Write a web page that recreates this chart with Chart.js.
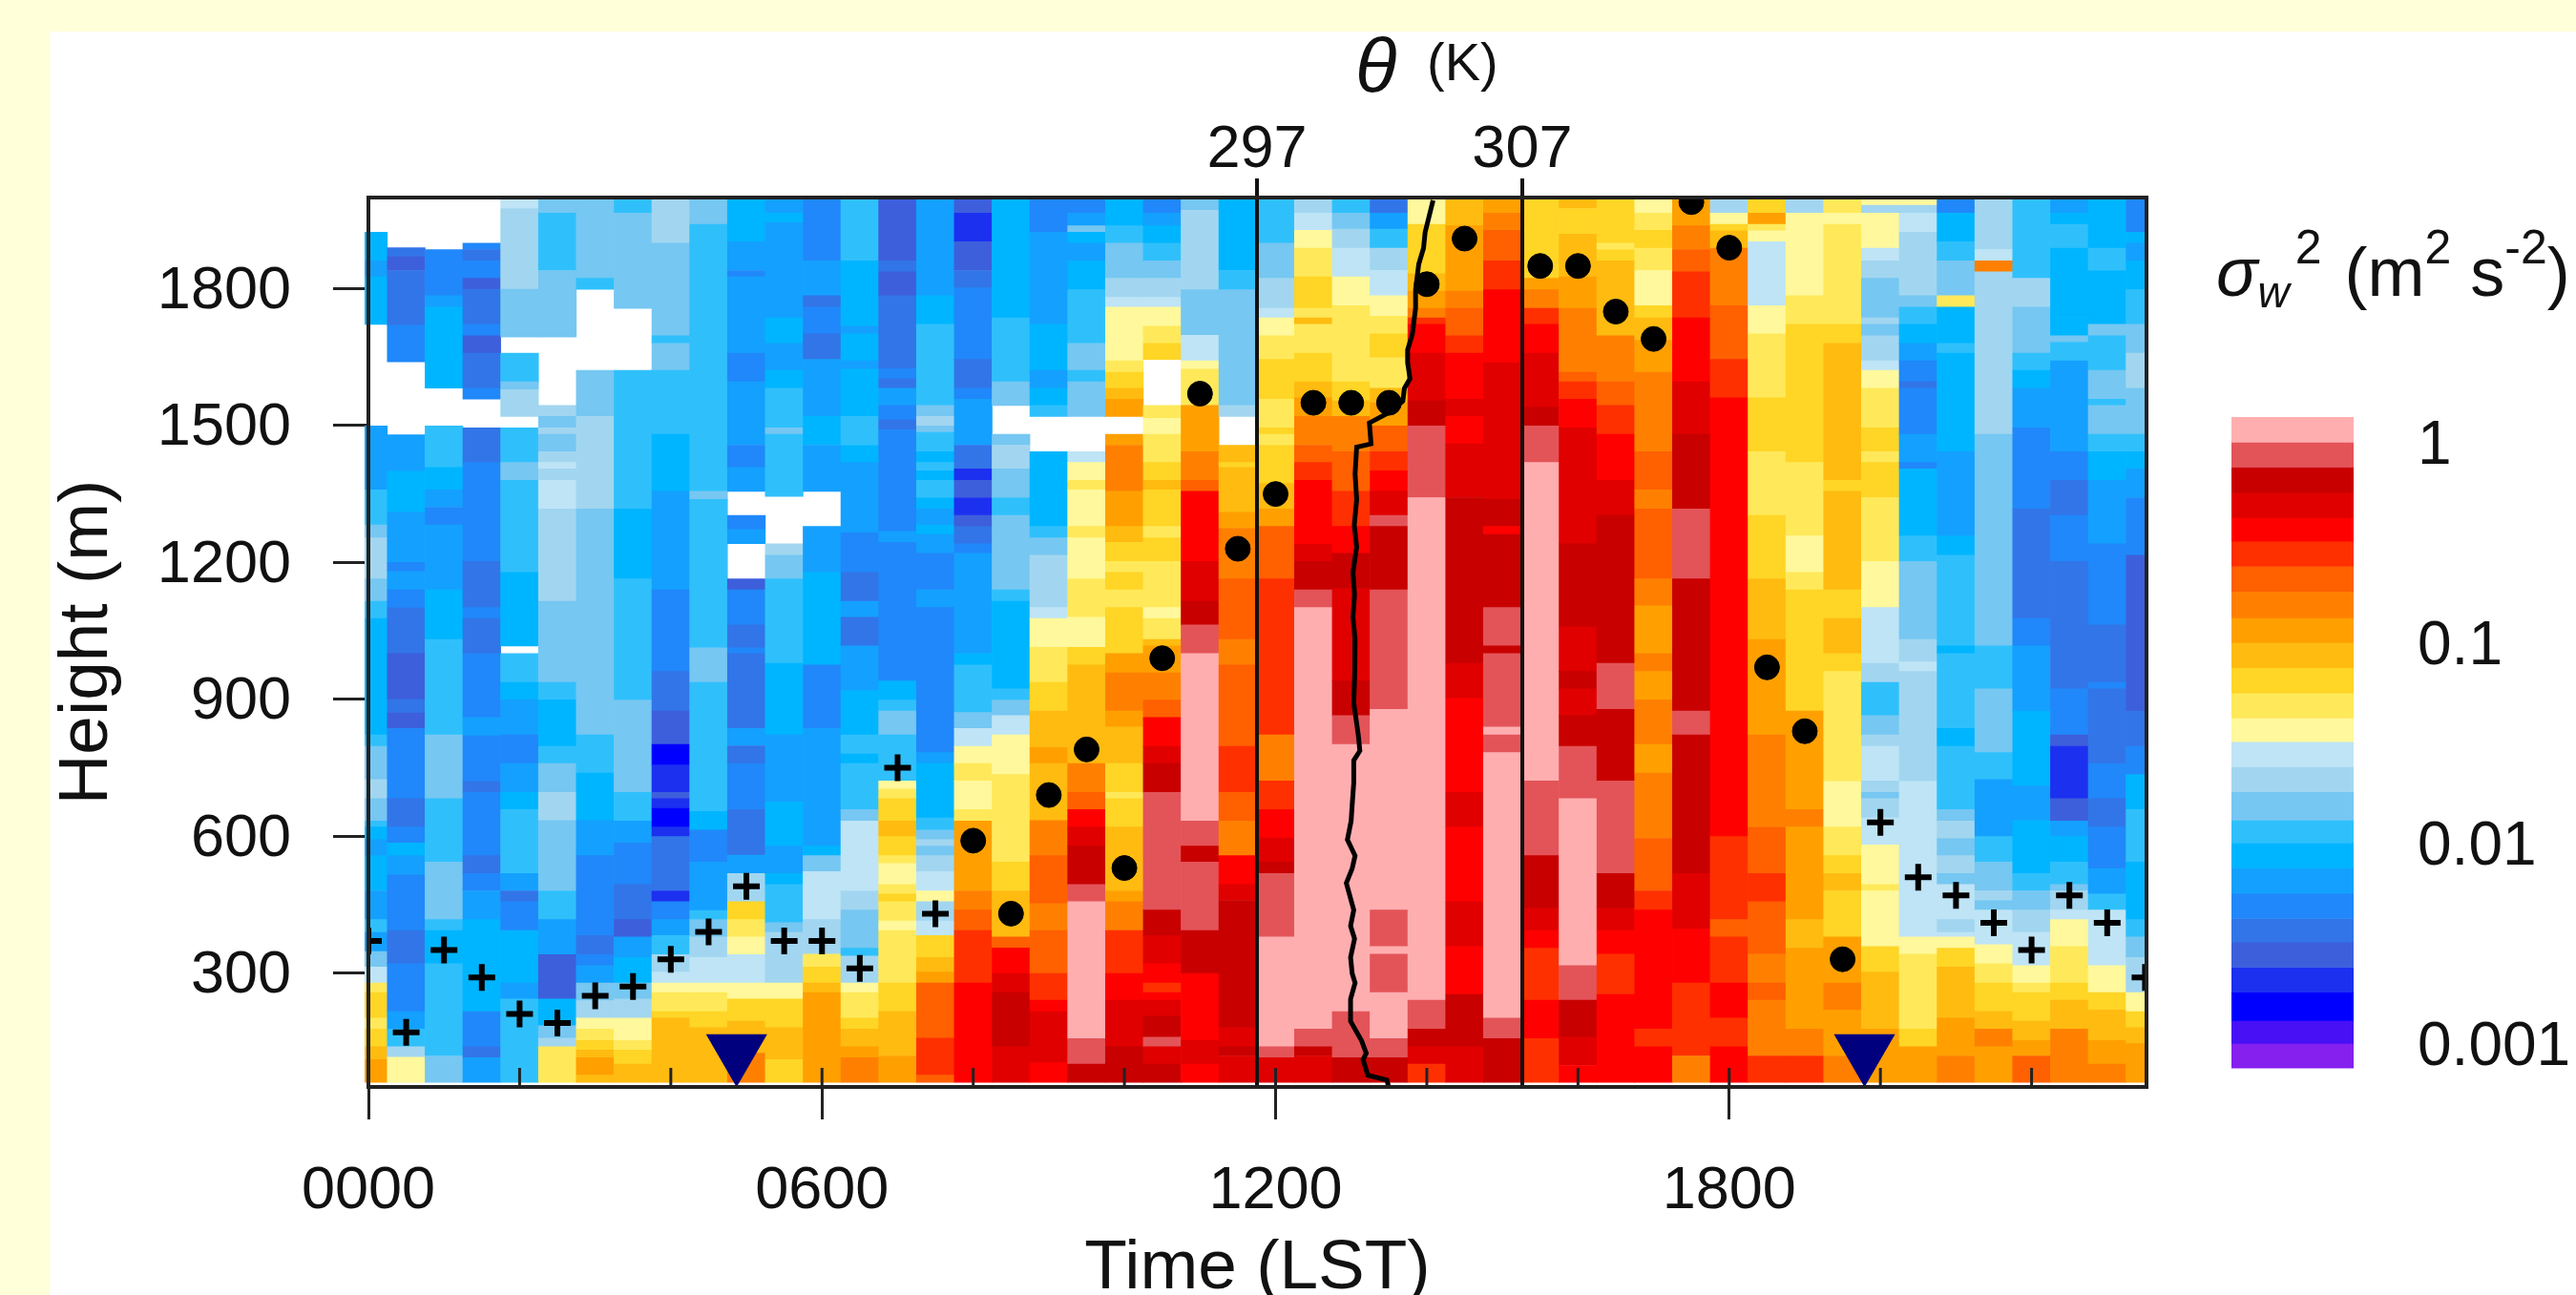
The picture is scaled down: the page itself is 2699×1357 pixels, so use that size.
<!DOCTYPE html>
<html lang="en">
<head>
    <meta charset="UTF-8">
    <title>Vertical velocity variance</title>
    <script src="https://cdn.jsdelivr.net/npm/chart.js"></script>
    <style>
        html, body { margin: 0; padding: 0; width: 2699px; height: 1357px; overflow: hidden; background: #ffffd9; font-family: "Liberation Sans", Arial, sans-serif; color: #111; }
        #panel { position: absolute; left: 52px; top: 33px; width: 2647px; height: 1324px; background: #fff; }
        canvas { position: absolute; }
        #mainChart { left: 0; top: 0; }
        #barChart { left: 2300px; top: 339px; }
        .label { position: absolute; white-space: nowrap; line-height: 1; }
        .up { position: relative; font-size: 50px; top: -34px; }
    </style>
</head>
<body>
    <div id="panel"></div>
    <canvas id="mainChart" width="2699" height="1357"></canvas>
    <canvas id="barChart" width="399" height="878"></canvas>
    <div class="label" style="left:1420px; top:29px; font-size:80px;"><i>θ</i></div>
    <div class="label" style="left:1495px; top:37px; font-size:56px;">(K)</div>
    <div class="label" style="left:2322px; top:249px; font-size:72px;"><i>σ</i><i style="font-size:46px; position:relative; top:12px;">w</i><span class="up" style="margin-left:6px;">2</span><span style="margin-left:4px;"> (m</span><span class="up">2</span> s<span class="up">-2</span>)</div>
    <script>
        // colour bands of the variance scale, top of the colour bar first
        const bandColors = [
            '#ffaeb0', '#e35458', '#c80000', '#e00000', '#ff0000', '#ff3000', '#ff6000', '#ff8000', '#ffa000',
            '#ffbb10', '#ffd526', '#ffe95a', '#fff89c', '#bee4f6', '#a2d6f0', '#76c7f2', '#2fc0fc', '#00b5ff',
            '#14a0ff', '#2088fa', '#3275e8', '#3d5fdc', '#1c30f0', '#0000ff', '#4710f5', '#8520ee'
        ];
        const bandEdges = [1.33, 1, 0.75, 0.56, 0.42, 0.32, 0.24, 0.18, 0.133, 0.1, 0.075, 0.056, 0.042, 0.032,
            0.024, 0.018, 0.013, 0.01, 0.0075, 0.0056, 0.0042, 0.0032, 0.0024, 0.0018, 0.0013, 0.001, 0.00075];
        const barTicks = [1, 0.1, 0.01, 0.001];

        const columnTimes = [0, 0.5, 1, 1.5, 2, 2.5, 3, 3.5, 4, 4.5, 5, 5.5, 6, 6.5, 7, 7.5, 8, 8.5, 9, 9.5, 10, 10.5, 11, 11.5,
            12, 12.5, 13, 13.5, 14, 14.5, 15, 15.5, 16, 16.5, 17, 17.5, 18, 18.5, 19, 19.5, 20, 20.5, 21, 21.5, 22, 22.5, 23, 23.5];

        // one list per time column, from the top down: band, height (m) where that band stops. -1 = no data
        const varianceRuns = [
            [-1,1924,17,1861,18,1826,17,1722,-1,1499,18,1359,16,1282,15,1254,14,1164,15,1115,16,1077,17,822,16,797,15,724,14,682,15,633,16,620,17,592,18,557,17,480,18,417,16,389,18,347,15,313,13,278,11,257,10,201,11,177,10,138,9,110,8,60],
            [-1,1890,20,1870,21,1840,20,1720,19,1640,-1,1480,18,1400,17,1310,18,1200,19,1180,18,1140,19,1100,20,1000,21,900,20,870,21,836,19,682,20,620,19,585,17,557,18,515,19,393,20,320,19,215,18,177,16,138,14,115,12,60],
            [-1,1886,19,1785,18,1760,17,1582,-1,1499,16,1408,17,1359,18,1321,19,1282,18,1140,17,1031,16,822,15,682,16,543,15,417,16,393,17,320,16,118,15,60],
            [-1,1900,19,1886,20,1861,19,1823,21,1799,20,1722,19,1697,21,1659,20,1582,19,1558,-1,1495,20,1419,19,1202,20,1101,19,1077,20,1000,19,860,18,820,19,720,20,696,19,557,20,518,19,480,18,417,17,215,19,138,20,114,18,60],
            [13,1976,14,1799,15,1694,-1,1659,16,1596,15,1579,14,1520,-1,1495,16,1419,15,1380,16,1178,17,1017,-1,1000,16,937,17,899,18,822,19,759,18,696,17,658,16,518,18,480,20,456,19,393,17,278,18,243,16,60],
            [15,1966,16,1840,15,1694,-1,1544,14,1520,15,1495,14,1481,15,1443,14,1419,13,1405,14,1380,13,1317,14,1115,15,937,16,899,17,797,16,759,15,696,14,634,15,480,16,417,18,340,21,243,17,184,15,157,14,138,11,60],
            [15,1823,16,1799,-1,1621,15,1520,14,1317,15,822,16,738,17,634,18,557,19,382,20,340,19,316,18,278,15,239,14,201,12,177,11,152,10,131,9,114,8,76,9,60],
            [16,1966,15,1757,-1,1621,16,1317,17,1164,16,898,15,696,16,633,18,585,19,494,20,417,21,379,18,334,17,278,15,243,14,201,12,152,11,131,10,100,9,60],
            [14,1900,15,1697,16,1680,15,1621,16,1481,17,1356,18,1140,19,961,20,874,21,801,23,756,22,696,21,682,22,661,23,620,22,599,20,480,22,456,19,417,18,382,16,340,14,302,13,278,12,257,11,215,10,201,9,60],
            [15,1941,16,1356,15,1338,16,1013,15,937,16,654,17,613,19,543,18,437,16,417,15,379,14,334,13,278,12,257,11,215,10,180,9,60],
            [17,1903,18,1840,19,1826,18,1659,19,1596,18,1457,19,1408,18,1356,-1,1303,19,1272,18,1241,-1,1164,21,1140,19,1063,20,1013,19,1000,20,836,18,798,20,759,19,658,20,558,18,518,14,456,10,417,11,379,12,340,13,278,12,243,10,194,9,124,7,60],
            [18,1966,17,1945,18,1736,17,1680,18,1621,17,1582,16,1495,15,1481,16,1345,-1,1241,14,1216,15,1164,16,979,17,822,18,675,17,578,18,518,17,494,16,410,15,389,14,278,12,243,10,180,9,110,10,60],
            [19,1861,18,1785,20,1760,19,1701,20,1645,18,1520,17,1457,18,1356,-1,1279,18,1178,17,975,19,836,18,578,17,557,15,522,13,417,14,341,11,313,10,278,9,257,8,60],
            [16,1861,17,1718,18,1701,17,1642,18,1624,17,1520,16,1457,17,1419,18,1265,19,1178,20,1115,18,1080,20,1017,18,919,17,822,16,780,17,759,16,658,15,633,13,480,14,438,15,354,16,337,14,278,12,257,11,201,10,177,9,138,8,114,7,60],
            [21,1861,20,1837,21,1785,20,1625,19,1603,20,1582,18,1544,19,1513,20,1491,19,1268,18,1244,19,940,17,898,16,874,15,822,16,721,12,703,11,682,10,633,9,599,10,557,11,540,12,494,11,473,10,456,11,414,12,393,11,278,10,215,9,118,8,60],
            [18,1785,17,1722,16,1544,15,1520,14,1499,15,1485,16,1443,17,1419,16,1401,17,1380,16,1342,17,1317,18,1282,17,1261,18,1220,19,1140,18,1101,19,783,18,759,17,640,16,613,15,592,14,578,15,557,14,522,13,480,12,456,14,414,13,382,10,334,9,302,8,278,6,157,5,76,6,60],
            [21,1966,22,1903,21,1840,20,1802,19,1645,20,1582,19,1558,18,1457,20,1405,22,1380,21,1342,22,1303,21,1279,20,1241,19,1220,18,1000,17,975,16,871,15,836,13,797,12,759,11,721,12,658,11,633,8,480,7,438,6,393,5,278,4,60],
            [17,1736,16,1596,15,1544,-1,1481,15,1457,14,1405,15,1342,16,1303,15,1140,16,1115,17,923,16,898,15,864,13,822,12,735,11,543,10,480,9,379,6,355,4,299,3,257,2,138,3,60],
            [19,1924,18,1722,17,1621,18,1582,17,1544,16,1520,-1,1443,17,1279,16,1254,15,1216,14,1101,13,1077,12,1014,11,937,10,874,9,794,8,759,9,634,7,557,6,452,7,393,6,299,5,240,4,215,3,103,4,60],
            [19,1966,18,1938,15,1924,17,1900,18,1861,17,1798,16,1680,15,1621,16,1596,15,1520,-1,1443,13,1419,12,1380,11,1359,12,1279,11,1254,12,1164,11,1080,12,1014,10,975,9,759,7,696,6,658,4,620,3,578,2,494,1,456,0,156,1,100,2,60],
            [17,1938,16,1900,15,1823,14,1781,13,1760,12,1642,11,1617,10,1582,9,1558,8,1520,-1,1481,8,1457,7,1356,8,1279,9,1244,10,1202,11,1178,10,1140,11,1101,10,1000,8,958,7,874,8,839,9,759,10,696,11,682,10,620,9,480,8,456,7,393,5,299,4,240,3,138,2,60],
            [19,1966,18,1938,17,1900,16,1861,15,1823,14,1781,13,1760,12,1718,11,1680,10,1645,-1,1544,11,1516,12,1481,11,1419,10,1380,9,1359,10,1279,11,1254,10,1202,11,1101,12,1077,11,1031,9,1017,8,958,7,898,6,860,4,797,3,759,2,696,1,438,2,382,3,320,4,278,5,257,4,240,3,205,2,159,1,138,3,100,2,60],
            [15,1972,14,1798,15,1698,13,1642,12,1624,11,1544,8,1443,7,1380,6,1356,4,1202,3,1115,2,1063,1,1000,0,633,1,578,2,543,1,393,2,299,4,152,3,100,4,60],
            [17,1840,16,1798,15,1544,14,1520,-1,1457,9,1419,10,1408,9,1310,8,1275,7,1164,6,1031,7,975,6,797,5,696,6,633,7,557,4,494,3,459,2,180,3,138,2,118,3,60],
            [16,1900,15,1823,14,1757,13,1736,12,1697,11,1645,10,1558,11,1495,10,1481,11,1457,10,1373,9,1317,8,1279,6,1164,5,822,7,721,5,658,4,596,3,543,2,518,1,379,0,138,1,114,3,60],
            [14,1966,13,1928,12,1889,11,1826,10,1757,11,1736,9,1722,11,1659,10,1596,9,1561,8,1520,7,1457,6,1419,5,1380,4,1240,3,1202,2,1140,1,1101,0,177,1,138,2,118,3,60],
            [16,1966,15,1931,14,1889,13,1826,12,1763,11,1596,10,1554,9,1520,7,1443,6,1356,5,1279,4,1220,2,1143,3,940,2,864,1,801,0,215,1,114,2,60],
            [20,1966,18,1931,16,1889,14,1840,13,1785,12,1740,11,1701,10,1649,11,1582,9,1550,8,1499,6,1443,5,1401,4,1356,3,1303,1,1279,2,1140,1,878,0,438,1,358,0,341,1,257,0,156,1,114,2,60],
            [12,1941,10,1833,9,1795,8,1757,7,1736,5,1722,4,1659,3,1554,2,1499,1,1342,0,240,1,177,2,138,3,100,5,60],
            [9,1938,8,1795,7,1757,6,1697,5,1659,4,1558,3,1520,4,1460,3,1342,2,979,3,902,4,696,3,620,4,456,3,358,4,253,2,138,3,60],
            [8,1966,7,1928,6,1861,5,1798,4,1638,3,1338,2,1279,4,1261,2,1101,1,1017,2,1000,1,839,0,822,1,783,0,201,1,156,2,60],
            [10,1823,8,1798,7,1757,5,1722,4,1659,3,1540,2,1499,1,1419,0,721,1,557,2,442,3,393,4,354,5,240,4,156,5,60],
            [9,1976,10,1920,9,1826,8,1757,7,1617,6,1596,5,1558,4,1495,3,1241,2,1059,3,961,2,923,3,864,2,797,1,682,0,316,1,240,2,159,3,97,4,60],
            [10,1900,11,1886,10,1861,9,1697,7,1596,6,1544,5,1481,4,1380,3,1303,2,979,1,878,2,721,1,518,2,442,3,393,4,341,5,253,4,60],
            [12,1966,11,1928,10,1889,11,1840,12,1763,10,1736,9,1687,8,1617,7,1443,6,1359,7,1317,6,1164,7,1105,8,1000,7,961,8,899,7,801,8,738,7,595,6,480,5,438,4,177,5,138,4,60],
            [8,1938,7,1886,6,1837,5,1736,4,1596,3,1481,2,1317,1,1164,2,874,1,822,2,518,3,396,4,278,5,118,7,60],
            [14,1966,12,1941,10,1927,9,1889,7,1763,6,1645,5,1561,4,599,5,417,6,379,5,278,4,201,5,138,4,60],
            [10,1966,8,1941,11,1927,12,1903,13,1763,12,1701,11,1561,10,1443,11,1303,10,1164,9,1031,8,822,7,619,6,518,5,456,6,341,7,278,6,240,7,118,5,60],
            [14,1966,12,1785,11,1722,10,1419,11,1258,12,1178,11,1140,10,874,8,658,7,620,8,417,9,354,8,177,7,118,5,60],
            [11,1966,12,1941,11,1722,10,1680,9,1380,10,1356,9,1140,10,1077,9,1000,10,961,11,720,12,620,11,557,10,518,9,480,10,379,8,278,7,218,8,118,7,60],
            [12,1983,14,1966,12,1889,13,1861,14,1823,15,1736,14,1722,15,1697,14,1642,13,1621,12,1582,11,1495,10,1443,11,1419,10,1342,11,1202,12,1101,13,979,14,937,16,864,15,822,14,797,13,721,14,696,15,682,14,640,13,581,12,494,11,480,12,358,10,302,9,177,8,60],
            [12,1983,14,1966,13,1924,14,1785,15,1760,16,1722,17,1680,18,1642,19,1596,20,1582,19,1481,18,1419,19,1405,17,1258,16,1202,15,1031,14,982,13,961,14,720,13,379,12,341,11,177,10,138,8,60],
            [19,1966,17,1903,16,1861,15,1785,11,1760,17,1680,16,1659,17,1443,18,1258,17,1216,16,1017,17,1000,16,836,17,797,16,658,15,633,14,595,15,557,14,518,15,494,13,417,14,389,13,379,12,354,10,313,9,201,8,118,7,60],
            [14,1886,13,1861,7,1837,14,1481,15,1017,16,923,15,783,16,724,18,599,16,543,15,480,14,459,15,438,13,362,12,320,11,278,10,215,9,177,7,138,8,60],
            [16,1823,14,1760,15,1659,16,1621,17,1582,18,1495,19,1317,20,1077,19,1017,18,874,17,710,18,634,17,518,16,480,15,438,14,389,13,316,12,278,11,257,10,194,9,152,8,118,6,60],
            [18,1966,17,1941,16,1889,17,1736,16,1736,17,1697,15,1683,16,1642,18,1443,19,1380,20,1303,19,1202,20,923,19,822,21,797,22,682,21,633,18,599,17,543,16,494,15,480,14,438,13,417,12,358,11,278,10,240,9,177,7,60],
            [17,1889,16,1840,17,1722,15,1697,16,1621,15,1558,16,1544,15,1481,16,1443,17,1380,18,1241,19,1063,20,937,19,923,20,759,19,682,20,620,19,529,18,473,16,438,13,316,12,257,10,219,9,152,8,100,7,60],
            [19,1924,17,1900,18,1861,17,1798,16,1722,15,1659,14,1582,15,1481,16,1443,17,1405,18,1342,19,1216,21,874,20,797,19,735,17,658,16,543,17,417,16,379,15,334,14,257,12,215,10,180,9,145,8,60]
        ];

        // plus signs, night time
        const plusTimes = [0, 0.5, 1, 1.5, 2, 2.5, 3, 3.5, 4, 4.5, 5, 5.5, 6, 6.5, 7, 7.5, 20, 20.5, 21, 21.5, 22, 22.5, 23, 23.5];
        const plusHeights = [370, 170, 350, 290, 210, 190, 250, 270, 330, 390, 490, 370, 370, 310, 750, 430, 630, 510, 470, 410, 350, 470, 410, 290];

        // black dots, day time
        const dotTimes = [8, 8.5, 9, 9.5, 10, 10.5, 11, 11.5, 12, 12.5, 13, 13.5, 14, 14.5, 15.5, 16, 16.5, 17, 17.5, 18, 18.5, 19, 19.5];
        const dotHeights = [590, 430, 690, 790, 530, 990, 1570, 1230, 1350, 1550, 1550, 1550, 1810, 1910, 1850, 1850, 1750, 1690, 1990, 1890, 970, 830, 330];

        // sunrise and sunset triangles
        const sunTimes = [4.87, 19.79];
        const sunHeights = [127, 127];

        // potential temperature profile
        const thetaValues = [303.64, 303.52, 303.34, 303.28, 303.10, 302.98, 302.98, 302.86, 302.68, 302.68, 302.77, 302.56, 302.50, 302.02, 301.24, 301.30, 300.76, 300.70, 300.76, 300.67, 300.76, 300.62, 300.68, 300.62, 300.70,
            300.68, 300.70, 300.65, 300.82, 300.88, 300.65, 300.65, 300.59, 300.55, 300.41, 300.70, 300.59, 300.37, 300.65, 300.53, 300.68, 300.53, 300.59, 300.70, 300.53, 300.53, 300.94, 301.12, 301.00, 301.18, 301.90, 301.96];
        const thetaHeights = [1994, 1966, 1924, 1889, 1854, 1798, 1757, 1701, 1666, 1638, 1603, 1582, 1554, 1530, 1506, 1460, 1453, 1394, 1338, 1282, 1234, 1178, 1129, 1080, 1031,
            1031, 961, 892, 822, 787, 766, 717, 668, 633, 592, 557, 529, 497, 438, 403, 375, 334, 299, 278, 243, 194, 152, 124, 110, 76, 65, 51];

        const heightTicks = [300, 600, 900, 1200, 1500, 1800];
        const timeTicks = [0, 6, 12, 18];
        const timeTickLabels = ['0000', '0600', '1200', '1800'];
        const minorTimeTicks = [0, 2, 4, 6, 8, 10, 12, 14, 16, 18, 20, 22];
        const thetaTicks = [297, 307];

        const cells = [];
        const cellColors = [];
        varianceRuns.forEach((runs, k) => {
            let top = 2000;
            for (let i = 0; i < runs.length; i += 2) {
                if (runs[i] >= 0) {
                    cells.push({ x: columnTimes[k], y: [runs[i + 1], top] });
                    cellColors.push(bandColors[runs[i]]);
                }
                top = runs[i + 1];
            }
        });

        function pairs(xs, ys) {
            return xs.map((x, i) => ({ x: x, y: ys[i] }));
        }

        const tickFont = { family: 'Liberation Sans', size: 63 };
        const titleFont = { family: 'Liberation Sans', size: 73 };

        // frame round the plot and the short inner ticks on the time axis
        const framePlugin = {
            id: 'frame',
            afterDraw(chart) {
                const ctx = chart.ctx;
                const a = chart.chartArea;
                const xs = chart.scales.x;
                ctx.save();
                ctx.strokeStyle = '#222';
                ctx.lineWidth = 3;
                minorTimeTicks.forEach(t => {
                    const px = xs.getPixelForValue(t);
                    ctx.beginPath();
                    ctx.moveTo(px, a.bottom);
                    ctx.lineTo(px, a.bottom - 20);
                    ctx.stroke();
                });
                ctx.lineWidth = 4;
                ctx.strokeRect(a.left, a.top, a.right - a.left, a.bottom - a.top);
                ctx.restore();
            }
        };

        new Chart(document.getElementById('mainChart'), {
            type: 'bar',
            data: {
                datasets: [
                    {
                        label: 'variance', data: cells, backgroundColor: cellColors, xAxisID: 'cellX', yAxisID: 'y',
                        barPercentage: 1, categoryPercentage: 1, grouped: false, order: 5,
                        clip: { left: 4, top: 0, right: 0, bottom: 0 }
                    },
                    {
                        type: 'scatter', label: 'theta', data: pairs(thetaValues, thetaHeights), xAxisID: 'theta', yAxisID: 'y',
                        showLine: true, borderColor: '#000', borderWidth: 5, pointRadius: 0, order: 3, clip: 0
                    },
                    {
                        type: 'scatter', label: 'night', data: pairs(plusTimes, plusHeights), xAxisID: 'x', yAxisID: 'y',
                        pointStyle: 'cross', pointRadius: 14, borderColor: '#000', pointBorderWidth: 6, order: 2, clip: 0
                    },
                    {
                        type: 'scatter', label: 'day', data: pairs(dotTimes, dotHeights), xAxisID: 'x', yAxisID: 'y',
                        pointStyle: 'circle', pointRadius: 13, backgroundColor: '#000', borderColor: '#000', order: 2, clip: 0
                    },
                    {
                        type: 'scatter', label: 'sun', data: pairs(sunTimes, sunHeights), xAxisID: 'x', yAxisID: 'y',
                        pointStyle: 'triangle', rotation: 180, pointRadius: 37, backgroundColor: '#00007f', borderColor: '#00007f',
                        borderWidth: 0, order: 1, clip: 0
                    }
                ]
            },
            options: {
                responsive: false,
                animation: false,
                events: [],
                layout: { padding: { left: 0, top: 0, right: 450, bottom: 0 } },
                plugins: { legend: { display: false }, tooltip: { enabled: false } },
                scales: {
                    // hidden copy of the time axis so the bar width comes from the column spacing only
                    cellX: {
                        type: 'linear', axis: 'x', display: false, offset: false, grid: { offset: false }, min: 0, max: 23.52,
                        afterBuildTicks: s => { s.ticks = []; }
                    },
                    x: {
                        type: 'linear', axis: 'x', position: 'bottom', min: 0, max: 23.52, offset: false,
                        afterBuildTicks: s => { s.ticks = timeTicks.map(v => ({ value: v })); },
                        afterFit: s => { s.height = 218; },
                        ticks: {
                            font: tickFont, color: '#111', padding: 38, maxRotation: 0, autoSkip: false,
                            callback: v => timeTickLabels[timeTicks.indexOf(v)]
                        },
                        grid: { offset: false, drawOnChartArea: false, color: '#222', lineWidth: 3, tickLength: 34 },
                        border: { display: false },
                        title: { display: true, text: 'Time (LST)', font: titleFont, color: '#111', padding: { top: 0, bottom: -17 } }
                    },
                    theta: {
                        type: 'linear', axis: 'x', position: 'top', min: 263.51, max: 330.53, offset: false,
                        afterBuildTicks: s => { s.ticks = thetaTicks.map(v => ({ value: v })); },
                        afterFit: s => { s.height = 207; },
                        ticks: { font: tickFont, color: '#111', padding: -8, maxRotation: 0, autoSkip: false, callback: v => String(v) },
                        grid: { offset: false, z: 1, color: '#111', lineWidth: 4, tickLength: 20 },
                        border: { display: false }
                    },
                    y: {
                        type: 'linear', position: 'left', min: 50, max: 2000,
                        afterBuildTicks: s => { s.ticks = heightTicks.map(v => ({ value: v })); },
                        afterFit: s => { s.width = 386; },
                        ticks: { font: tickFont, color: '#111', padding: 44, labelOffset: 3, autoSkip: false, callback: v => String(v) },
                        grid: { drawOnChartArea: false, color: '#222', lineWidth: 3, tickLength: 37 },
                        border: { display: false },
                        title: { display: true, text: 'Height (m)', font: titleFont, color: '#111', padding: { top: 48, bottom: 0 } }
                    }
                }
            },
            plugins: [framePlugin]
        });

        // colour bar: one floating bar per band on a log axis
        new Chart(document.getElementById('barChart'), {
            type: 'bar',
            data: {
                labels: [''],
                datasets: bandColors.map((c, i) => ({
                    data: [[bandEdges[i + 1], bandEdges[i]]],
                    backgroundColor: c,
                    barPercentage: 1,
                    categoryPercentage: 1,
                    grouped: false
                }))
            },
            options: {
                responsive: false,
                animation: false,
                events: [],
                layout: { padding: { left: 38, top: 0, bottom: 0, right: 0 } },
                plugins: { legend: { display: false }, tooltip: { enabled: false } },
                scales: {
                    x: { display: false },
                    y: {
                        type: 'logarithmic', position: 'right', min: 0.00075, max: 1.343,
                        afterBuildTicks: s => { s.ticks = barTicks.map(v => ({ value: v })); },
                        afterFit: s => { s.width = 233; },
                        ticks: {
                            font: { family: 'Liberation Sans', size: 64 }, color: '#111', padding: 59, crossAlign: 'near',
                            labelOffset: 5, autoSkip: false, callback: v => String(v)
                        },
                        grid: { display: false },
                        border: { display: false }
                    }
                }
            }
        });
    </script>
</body>
</html>
